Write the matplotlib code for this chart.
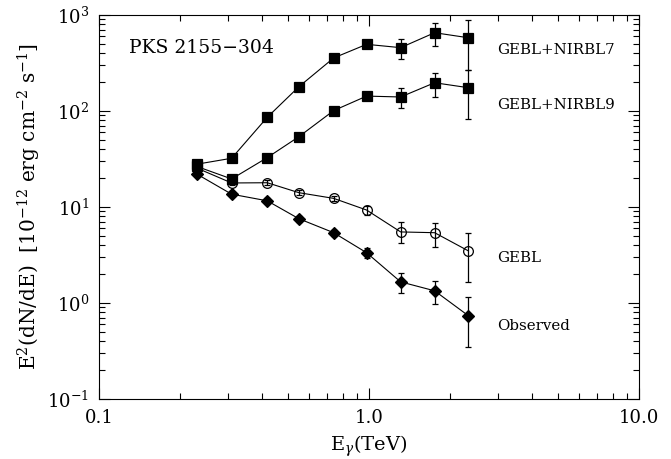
import matplotlib
matplotlib.use('Agg')
import matplotlib.pyplot as plt
import matplotlib.ticker as mticker
import numpy as np

# photon energies (TeV)
energy = [0.23, 0.31, 0.42, 0.55, 0.74, 0.98, 1.31, 1.75, 2.33]

# E^2 dN/dE [1e-12 erg cm-2 s-1], with lower / upper error bar ends
observed = [22.1, 13.6, 11.6, 7.55, 5.4, 3.34, 1.66, 1.34, 0.74]
observed_lo = [21.0, 12.9, 10.9, 7.0, 5.0, 2.97, 1.26, 0.98, 0.35]
observed_hi = [23.2, 14.3, 12.3, 8.1, 5.8, 3.72, 2.04, 1.71, 1.15]

gebl = [25.5, 17.8, 17.9, 14.1, 12.3, 9.3, 5.5, 5.4, 3.5]
gebl_lo = [24.5, 16.8, 16.8, 13.2, 11.5, 8.3, 4.25, 3.86, 1.64]
gebl_hi = [26.5, 18.8, 19.0, 15.0, 13.1, 10.3, 6.93, 6.87, 5.4]

nirbl9 = [26.5, 19.6, 32.7, 54, 101, 143, 140, 197, 175]
nirbl9_lo = [25.5, 18.6, 31.0, 51, 95, 130, 108, 141, 82.6]
nirbl9_hi = [27.5, 20.6, 34.4, 57, 107, 156, 175, 250, 267]

nirbl7 = [27.9, 32.2, 86, 179, 357, 495, 457, 654, 580]
nirbl7_lo = [26.8, 30.8, 82, 171, 340, 455, 346, 475, 267]
nirbl7_hi = [29.0, 33.6, 90, 187, 374, 540, 562, 832, 887]

plt.rcParams['font.family'] = ['DejaVu Serif']
plt.rcParams['mathtext.fontset'] = 'dejavuserif'


def draw(ax, y, lo, hi, marker, face, size, label, label_y):
    y = np.array(y)
    err = [y - np.array(lo), np.array(hi) - y]
    ax.errorbar(energy, y, yerr=err, fmt='-', color='black', lw=0.8,
                marker=marker, mfc=face, mec='black', mew=0.9, ms=size,
                capsize=2.2, elinewidth=0.9, capthick=0.9)
    ax.text(2.99, label_y, label, fontsize=10.8, va='center', ha='left')


def main():
    fig = plt.figure(figsize=(6.71, 4.59), dpi=100)
    ax = fig.add_axes([0.1475, 0.1307, 0.8048, 0.8366])

    draw(ax, observed, observed_lo, observed_hi, 'D', 'black', 6.5, 'Observed', 0.58)
    draw(ax, gebl, gebl_lo, gebl_hi, 'o', 'none', 7, 'GEBL', 2.94)
    draw(ax, nirbl9, nirbl9_lo, nirbl9_hi, 's', 'black', 7, 'GEBL+NIRBL9', 115)
    draw(ax, nirbl7, nirbl7_lo, nirbl7_hi, 's', 'black', 7, 'GEBL+NIRBL7', 430)

    ax.set_xscale('log')
    ax.set_yscale('log')
    ax.set_xlim(0.1, 10)
    ax.set_ylim(0.1, 1000)

    ax.xaxis.set_major_locator(mticker.FixedLocator([0.1, 1.0, 10.0]))
    ax.xaxis.set_major_formatter(mticker.FixedFormatter(['0.1', '1.0', '10.0']))
    ax.xaxis.set_minor_locator(mticker.LogLocator(base=10, subs=np.arange(2, 10)))
    ax.xaxis.set_minor_formatter(mticker.NullFormatter())
    ax.yaxis.set_major_locator(mticker.LogLocator(base=10, numticks=10))
    ax.yaxis.set_minor_locator(mticker.LogLocator(base=10, subs=np.arange(2, 10), numticks=10))
    ax.yaxis.set_minor_formatter(mticker.NullFormatter())

    ax.tick_params(which='both', direction='in', top=True, right=True, labelsize=13)
    ax.tick_params(which='major', length=8, width=0.8, pad=7)
    ax.tick_params(which='minor', length=4, width=0.8)
    for s in ax.spines.values():
        s.set_linewidth(0.8)

    ax.text(0.129, 457, 'PKS 2155\u2212304', fontsize=13.5, va='center', ha='left')

    fig.text(369 / 671, 1 - 446 / 459, r'E$_\gamma$(TeV)', fontsize=14,
             ha='center', va='center')
    fig.text(29 / 671, 1 - 206 / 459,
             r'E$^2$(dN/dE)  [10$^{-12}$ erg cm$^{-2}$ s$^{-1}$]', fontsize=14.5,
             ha='center', va='center', rotation=90)

    fig.savefig('out.png', dpi=100)


if __name__ == '__main__':
    main()
